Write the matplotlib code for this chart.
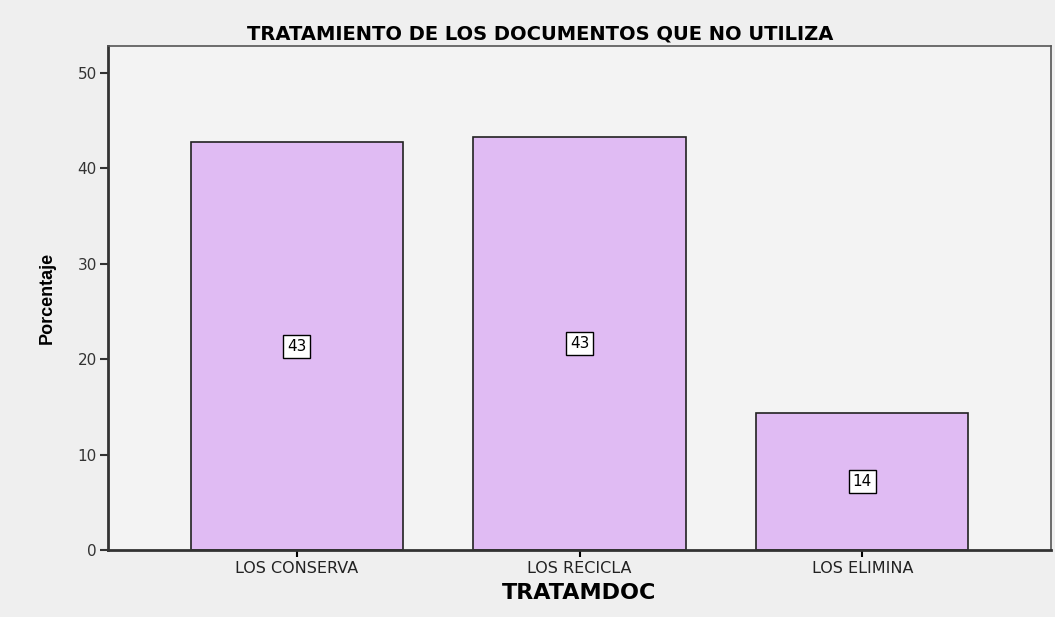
import matplotlib.pyplot as plt

# data
categories = ['LOS CONSERVA', 'LOS RECICLA', 'LOS ELIMINA']
porcentaje = [42.7, 43.3, 14.4]
etiquetas = ['43', '43', '14']

plt.rcParams['font.family'] = ['DejaVu Sans']

fig = plt.figure(figsize=(10.55, 6.17), dpi=100, facecolor='#efefef')
ax = fig.add_axes([0.1024, 0.1086, 0.8938, 0.8168], facecolor='#f3f3f3')

x = range(len(categories))
ax.bar(x, porcentaje, width=0.75, color='#e0bbf3', edgecolor='#222222', linewidth=1.2, zorder=2)

# value labels in the middle of each bar
for i, (v, lab) in enumerate(zip(porcentaje, etiquetas)):
    ax.text(i, v / 2, lab, ha='center', va='center', fontsize=11, zorder=3,
            bbox=dict(boxstyle='square,pad=0.25', facecolor='white', edgecolor='black', linewidth=1))

ax.set_xlim(-0.667, 2.667)
ax.set_ylim(0, 52.8)
ax.set_yticks([0, 10, 20, 30, 40, 50])
ax.set_xticks(list(x))
ax.set_xticklabels(categories, fontsize=11.5, color='#222222')
ax.tick_params(axis='y', labelsize=11, colors='#333333', length=6, width=1.5, pad=2)
ax.tick_params(axis='x', length=5, width=1.5, pad=3)

for side in ['left', 'bottom']:
    ax.spines[side].set_linewidth(2)
    ax.spines[side].set_color('#333333')
for side in ['top', 'right']:
    ax.spines[side].set_linewidth(1.2)
    ax.spines[side].set_color('#555555')

ax.set_title('TRATAMIENTO DE LOS DOCUMENTOS QUE NO UTILIZA', fontsize=14,
             fontweight='bold', x=0.458, pad=5)
ax.set_xlabel('TRATAMDOC', fontsize=16, fontweight='bold', labelpad=5)
ax.set_ylabel('Porcentaje', fontsize=13, fontweight='bold',
              family=['Liberation Sans Narrow', 'Liberation Sans', 'DejaVu Sans'], labelpad=16)

plt.savefig('out.png', dpi=100, facecolor=fig.get_facecolor())
